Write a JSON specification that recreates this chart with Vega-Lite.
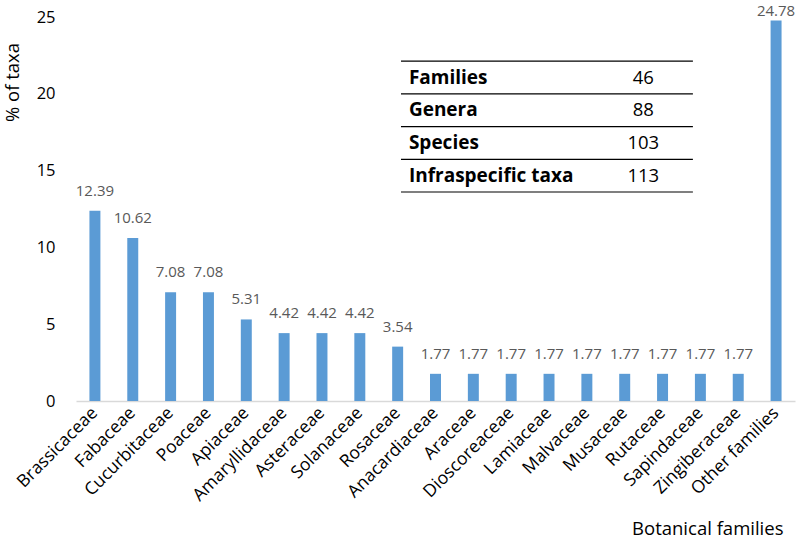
{
  "$schema": "https://vega.github.io/schema/vega-lite/v6.json",
  "width": 719,
  "height": 384,
  "autosize": {"type": "none"},
  "padding": {"left": 76, "top": 17, "right": 2, "bottom": 137},
  "config": {"view": {"stroke": null}, "font": "Open Sans"},
  "datasets": {
    "families": [
      {"family": "Brassicaceae", "pct": 12.39},
      {"family": "Fabaceae", "pct": 10.62},
      {"family": "Cucurbitaceae", "pct": 7.08},
      {"family": "Poaceae", "pct": 7.08},
      {"family": "Apiaceae", "pct": 5.31},
      {"family": "Amaryllidaceae", "pct": 4.42},
      {"family": "Asteraceae", "pct": 4.42},
      {"family": "Solanaceae", "pct": 4.42},
      {"family": "Rosaceae", "pct": 3.54},
      {"family": "Anacardiaceae", "pct": 1.77},
      {"family": "Araceae", "pct": 1.77},
      {"family": "Dioscoreaceae", "pct": 1.77},
      {"family": "Lamiaceae", "pct": 1.77},
      {"family": "Malvaceae", "pct": 1.77},
      {"family": "Musaceae", "pct": 1.77},
      {"family": "Rutaceae", "pct": 1.77},
      {"family": "Sapindaceae", "pct": 1.77},
      {"family": "Zingiberaceae", "pct": 1.77},
      {"family": "Other families", "pct": 24.78}
    ],
    "table": [
      {"label": "Families", "count": 46, "row": 1},
      {"label": "Genera", "count": 88, "row": 2},
      {"label": "Species", "count": 103, "row": 3},
      {"label": "Infraspecific taxa", "count": 113, "row": 4}
    ]
  },
  "layer": [
    {
      "data": {"name": "families"},
      "encoding": {
        "x": {
          "field": "family", "type": "nominal", "sort": null,
          "scale": {"paddingInner": 0.71, "paddingOuter": 0.355},
          "axis": {
            "title": "Botanical families", "titleFontSize": 18.5, "titleFontWeight": "normal", "titleColor": "#000000",
            "titleX": 707, "titleY": 127, "titleAlign": "right", "titleBaseline": "middle",
            "labelAngle": -45, "labelAlign": "right", "labelBaseline": "middle",
            "labelFontSize": 17.5, "labelColor": "#000000", "labelPadding": 9,
            "ticks": false, "domainColor": "#d9d9d9", "domainWidth": 1.5, "labelOverlap": false
          }
        },
        "y": {
          "field": "pct", "type": "quantitative",
          "scale": {"domain": [0, 25], "nice": false},
          "axis": {
            "title": "% of taxa", "titleFontSize": 18.5, "titleFontWeight": "normal", "titleColor": "#000000",
            "titleX": -64, "titleY": 65, "titleAngle": -90, "titleAlign": "center", "titleBaseline": "middle",
            "labelFontSize": 16.5, "labelColor": "#000000", "labelPadding": 21,
            "ticks": false, "domain": false, "grid": false, "values": [0, 5, 10, 15, 20, 25]
          }
        }
      },
      "layer": [
        {"mark": {"type": "bar", "color": "#5b9bd5"}},
        {
          "transform": [{"filter": "datum.pct < 20"}],
          "mark": {"type": "text", "dy": -20, "fontSize": 15, "color": "#595959", "baseline": "middle"},
          "encoding": {"text": {"field": "pct", "format": ".2f"}}
        },
        {
          "transform": [{"filter": "datum.pct >= 20"}],
          "mark": {"type": "text", "dy": -9.5, "fontSize": 15, "color": "#595959", "baseline": "middle"},
          "encoding": {"text": {"field": "pct", "format": ".2f"}}
        }
      ]
    },
    {
      "data": {"name": "table"},
      "encoding": {
        "y": {"field": "row", "type": "quantitative", "scale": {"domain": [-0.85, 10.89], "reverse": true, "zero": false, "nice": false}, "axis": null}
      },
      "layer": [
        {
          "mark": {"type": "text", "align": "left", "baseline": "middle", "fontWeight": "bold", "fontSize": 19, "color": "#000000"},
          "encoding": {
            "x": {"datum": 0.463, "type": "quantitative", "scale": {"domain": [0, 1], "nice": false, "zero": false}, "axis": null},
            "text": {"field": "label"}
          }
        },
        {
          "mark": {"type": "text", "align": "center", "baseline": "middle", "fontSize": 18.5, "color": "#000000"},
          "encoding": {
            "x": {"datum": 0.789, "type": "quantitative"},
            "text": {"field": "count"}
          }
        },
        {
          "mark": {"type": "rule", "color": "#000000", "strokeWidth": 1.2, "yOffset": 16.35},
          "encoding": {
            "x": {"datum": 0.452, "type": "quantitative"},
            "x2": {"datum": 0.858}
          }
        },
        {
          "transform": [{"filter": "datum.row == 1"}],
          "mark": {"type": "rule", "color": "#000000", "strokeWidth": 1.2, "yOffset": -16.35},
          "encoding": {
            "x": {"datum": 0.452, "type": "quantitative"},
            "x2": {"datum": 0.858}
          }
        }
      ]
    }
  ],
  "resolve": {"scale": {"x": "independent", "y": "independent"}}
}
